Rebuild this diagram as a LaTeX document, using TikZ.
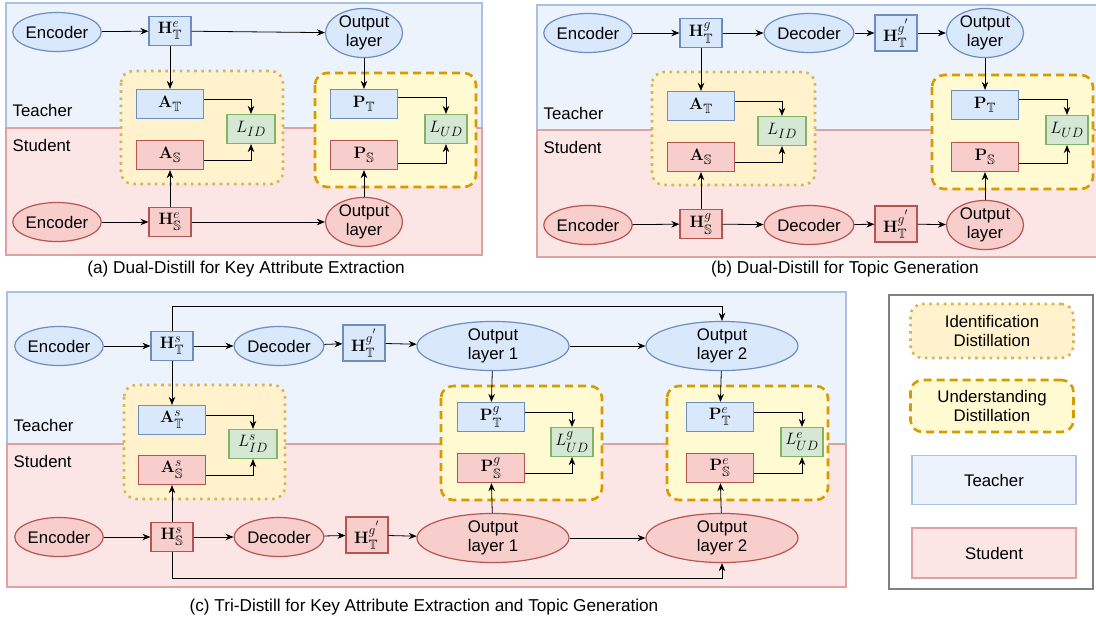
\documentclass[tikz,border=0pt]{standalone}
\usepackage{fix-cm}
\usepackage{amsmath}
\usepackage{amssymb}
\usepackage[no-math]{fontspec}
\setmainfont{Liberation Sans}
\usetikzlibrary{shapes.geometric,arrows.meta,positioning}
\DeclareMathSizes{16.5}{16.5}{13.5}{10}

\definecolor{tfill}{HTML}{DAE8FC}
\definecolor{tline}{HTML}{6C8EBF}
\definecolor{sfill}{HTML}{F8CECC}
\definecolor{sline}{HTML}{B85450}
\definecolor{lfill}{HTML}{D5E8D4}
\definecolor{lline}{HTML}{82B366}
\definecolor{tback}{HTML}{ECF3FD}
\definecolor{tbackline}{HTML}{A9C1E3}
\definecolor{sback}{HTML}{FBE6E5}
\definecolor{sbackline}{HTML}{DCA3A1}
\definecolor{idfill}{HTML}{FFF2CC}
\definecolor{idline}{HTML}{D6B656}
\definecolor{udfill}{HTML}{FFFAD2}
\definecolor{udline}{HTML}{D79B00}

\begin{document}
\begin{tikzpicture}[x=1pt, y=-1pt, line width=0.8pt, >={Stealth[length=8pt,width=6.5pt]},
  font=\fontsize{16.8}{19.5}\selectfont,
  tbox/.style = {draw=tline, fill=tfill, line width=1.2pt, inner sep=0pt, minimum width=42pt, minimum height=29pt, font=\fontsize{16.5}{19}\selectfont},
  sbox/.style = {draw=sline, fill=sfill, line width=1.2pt, inner sep=0pt, minimum width=42pt, minimum height=29pt, font=\fontsize{16.5}{19}\selectfont},
  lbox/.style = {draw=lline, fill=lfill, line width=1.2pt, inner sep=0pt, minimum width=48pt, minimum height=29pt, font=\fontsize{16.5}{19}\selectfont},
  wide/.style = {minimum width=67pt},
  tall/.style = {minimum height=36pt},
  tell/.style = {ellipse, draw=tline, fill=tfill, line width=1.2pt, inner sep=0pt, minimum width=77pt, minimum height=39pt, align=center},
  sell/.style = {ellipse, draw=sline, fill=sfill, line width=1.2pt, inner sep=0pt, minimum width=77pt, minimum height=39pt, align=center},
  big/.style = {minimum width=152pt, minimum height=42pt},
  teach/.style = {fill=tback, draw=tbackline, line width=1.2pt},
  stud/.style = {fill=sback, draw=sbackline, line width=1.2pt},
  idreg/.style = {fill=idfill, draw=idline, line width=2.6pt, dash pattern=on 2.6pt off 4.6pt, rounded corners=12pt},
  udreg/.style = {fill=udfill, draw=udline, line width=2.6pt, dash pattern=on 8pt off 5pt, rounded corners=12pt},
  captext/.style = {font=\fontsize{17.2}{20}\selectfont},
  side/.style = {anchor=west}]
\useasboundingbox (0,0) rectangle (1096,622);

% panel (a)
\draw[teach] (6,3) rectangle (482,128);
\draw[stud] (6,128) rectangle (482,255);
\draw[idreg] (121,71) rectangle (283,184);
\draw[udreg] (315,73) rectangle (476,187);
\node[side] (a-t) at (9,110) {Teacher};
\node[side] (a-s) at (9,145) {Student};
\node[tell] (a1) at (57,32) {Encoder};
\node[tbox] (a2) at (170,31) {$\mathbf{H}^{e}_{\mathbb{T}}$};
\node[tell] (a3) at (364,33) {Output\\layer};
\node[tbox,wide] (a4) at (170,104) {$\mathbf{A}_{\mathbb{T}}$};
\node[sbox,wide] (a5) at (170,155) {$\mathbf{A}_{\mathbb{S}}$};
\node[lbox] (a6) at (251,129) {$L_{ID}$};
\node[tbox,wide] (a7) at (364,104) {$\mathbf{P}_{\mathbb{T}}$};
\node[sbox,wide] (a8) at (364,155) {$\mathbf{P}_{\mathbb{S}}$};
\node[lbox,minimum width=42pt] (a9) at (446,129) {$L_{UD}$};
\node[sell] (a10) at (57,222) {Encoder};
\node[sbox] (a11) at (170,222) {$\mathbf{H}^{e}_{\mathbb{S}}$};
\node[sell] (a12) at (364,222) {Output\\layer};
\node[captext] (a-cap) at (246,269) {(a) Dual-Distill for Key Attribute Extraction};
\draw[->] (a1) -- (a2);
\draw[->] (a2) -- (a3);
\draw[->] (a2) -- (a4);
\draw[->] (a3) -- (a7);
\draw[->] (a10) -- (a11);
\draw[->] (a11) -- (a12);
\draw[->] (a11) -- (a5);
\draw[->] (a12) -- (a8);
\draw[->] ([yshift=5pt]a4.east) -| (a6);
\draw[->] ([yshift=-5pt]a5.east) -| (a6);
\draw[->] ([yshift=7pt]a7.east) -| (a9);
\draw[->] ([yshift=-8pt]a8.east) -| (a9);

% panel (b)
\draw[teach] (537,5) rectangle (1102,130);
\draw[stud] (537,130) rectangle (1102,257);
\draw[idreg] (652,72) rectangle (815,185);
\draw[udreg] (932,75) rectangle (1093,189);
\node[side] (b-t) at (540,113) {Teacher};
\node[side] (b-s) at (540,147) {Student};
\node[tell] (b1) at (588,33) {Encoder};
\node[tbox] (b2) at (701,33) {$\mathbf{H}^{g}_{\mathbb{T}}$};
\node[tell] (b3) at (809,33) {Decoder};
\node[tbox,tall] (b4) at (896,33) {$\mathbf{H}^{g^{'}}_{\mathbb{T}}$};
\node[tell] (b5) at (985,33) {Output\\layer};
\node[tbox,wide] (b6) at (701,106) {$\mathbf{A}_{\mathbb{T}}$};
\node[sbox,wide] (b7) at (701,157) {$\mathbf{A}_{\mathbb{S}}$};
\node[lbox] (b8) at (782,131) {$L_{ID}$};
\node[tbox,wide] (b9) at (985,105) {$\mathbf{P}_{\mathbb{T}}$};
\node[sbox,wide] (b10) at (985,157) {$\mathbf{P}_{\mathbb{S}}$};
\node[lbox,minimum width=42pt] (b11) at (1067,130) {$L_{UD}$};
\node[sell] (b12) at (588,225) {Encoder};
\node[sbox] (b13) at (701,224) {$\mathbf{H}^{g}_{\mathbb{S}}$};
\node[sell] (b14) at (809,225) {Decoder};
\node[sbox,tall] (b15) at (896,224) {$\mathbf{H}^{g^{'}}_{\mathbb{T}}$};
\node[sell] (b16) at (985,225) {Output\\layer};
\node[captext] (b-cap) at (845,269) {(b) Dual-Distill for Topic Generation};
\draw[->] (b1) -- (b2);
\draw[->] (b2) -- (b3);
\draw[->] (b3) -- (b4);
\draw[->] (b4) -- (b5);
\draw[->] (b2) -- (b6);
\draw[->] (b5) -- (b9);
\draw[->] (b12) -- (b13);
\draw[->] (b13) -- (b14);
\draw[->] (b14) -- (b15);
\draw[->] (b15) -- (b16);
\draw[->] (b13) -- (b7);
\draw[->] (b16) -- (b10);
\draw[->] ([yshift=5pt]b6.east) -| (b8);
\draw[->] ([yshift=-5pt]b7.east) -| (b8);
\draw[->] ([yshift=6pt]b9.east) -| (b11);
\draw[->] ([yshift=-6pt]b10.east) -| (b11);

% panel (c)
\draw[teach] (7,292) rectangle (846,444);
\draw[stud] (7,444) rectangle (846,587);
\draw[idreg] (124,385) rectangle (285,499);
\draw[udreg] (441,386) rectangle (602,500);
\draw[udreg] (667,386) rectangle (828,500);
\node[side] (c-t) at (10,425) {Teacher};
\node[side] (c-s) at (10,461) {Student};
\node[tell] (c1) at (59,346) {Encoder};
\node[tbox] (c2) at (172,346) {$\mathbf{H}^{s}_{\mathbb{T}}$};
\node[tell] (c3) at (279,346) {Decoder};
\node[tbox,tall] (c4) at (364,343) {$\mathbf{H}^{g^{'}}_{\mathbb{T}}$};
\node[tell,big] (c5) at (493,346) {Output\\layer 1};
\node[tell,big] (c6) at (722,346) {Output\\layer 2};
\node[tbox,wide] (c7) at (172,420) {$\mathbf{A}^{s}_{\mathbb{T}}$};
\node[sbox,wide] (c8) at (172,470) {$\mathbf{A}^{s}_{\mathbb{S}}$};
\node[lbox] (c9) at (253,444) {$L^{s}_{ID}$};
\node[tbox,wide] (c10) at (491,417) {$\mathbf{P}^{g}_{\mathbb{T}}$};
\node[sbox,wide] (c11) at (491,468) {$\mathbf{P}^{g}_{\mathbb{S}}$};
\node[lbox,minimum width=42pt] (c12) at (572,442) {$L^{g}_{UD}$};
\node[tbox,wide] (c13) at (720,417) {$\mathbf{P}^{e}_{\mathbb{T}}$};
\node[sbox,wide] (c14) at (720,468) {$\mathbf{P}^{e}_{\mathbb{S}}$};
\node[lbox,minimum width=42pt] (c15) at (802,442) {$L^{e}_{UD}$};
\node[sell] (c16) at (59,537) {Encoder};
\node[sbox] (c17) at (172,537) {$\mathbf{H}^{s}_{\mathbb{S}}$};
\node[sell] (c18) at (279,537) {Decoder};
\node[sbox,tall] (c19) at (367,535) {$\mathbf{H}^{g^{'}}_{\mathbb{T}}$};
\node[sell,big] (c20) at (493,538) {Output\\layer 1};
\node[sell,big] (c21) at (722,538) {Output\\layer 2};
\node[captext] (c-cap) at (424,607) {(c) Tri-Distill for Key Attribute Extraction and Topic Generation};
\coordinate (c-top) at (0,306);
\coordinate (c-bot) at (0,578);
\draw[->] (c1) -- (c2);
\draw[->] (c2) -- (c3);
\draw[->] (c3) -- (c4);
\draw[->] (c4) -- (c5);
\draw[->] (c5) -- (c6);
\draw[->] (c2) -- (c7);
\draw[->] (c5) -- (c10);
\draw[->] (c6) -- (c13);
\draw[->] (c2.north) -- (c2.north |- c-top) -| (c6.north);
\draw[->] (c16) -- (c17);
\draw[->] (c17) -- (c18);
\draw[->] (c18) -- (c19);
\draw[->] (c19) -- (c20);
\draw[->] (c20) -- (c21);
\draw[->] (c17) -- (c8);
\draw[->] (c20) -- (c11);
\draw[->] (c21) -- (c14);
\draw[->] (c17.south) -- (c17.south |- c-bot) -| (c21.south);
\draw[->] ([yshift=5pt]c7.east) -| (c9);
\draw[->] ([yshift=-5pt]c8.east) -| (c9);
\draw[->] ([yshift=5pt]c10.east) -| (c12);
\draw[->] ([yshift=-5pt]c11.east) -| (c12);
\draw[->] ([yshift=5pt]c13.east) -| (c15);
\draw[->] ([yshift=-5pt]c14.east) -| (c15);

% legend
\node[draw=gray, line width=1.2pt, minimum width=204pt, minimum height=294pt] (leg) at (991,442) {};
\node[idreg, align=center, minimum width=163pt, minimum height=54pt] (leg-id) at (992,331) {Identification\\Distillation};
\node[udreg, align=center, minimum width=163pt, minimum height=52pt] (leg-ud) at (992,406) {Understanding\\Distillation};
\node[teach, minimum width=164pt, minimum height=49pt] (leg-t) at (994,480) {Teacher};
\node[stud, minimum width=164pt, minimum height=50pt] (leg-s) at (994,553) {Student};
\end{tikzpicture}
\end{document}
